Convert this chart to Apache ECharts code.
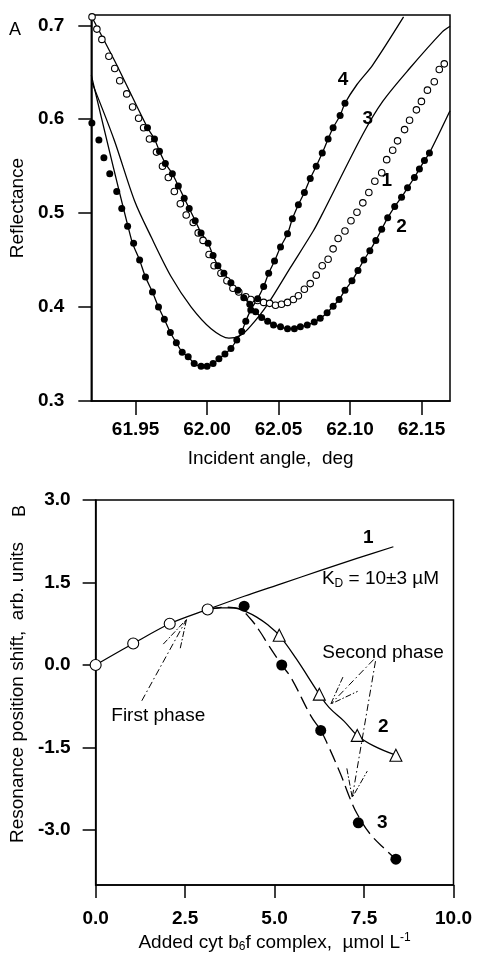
<!DOCTYPE html>
<html>
<head>
<meta charset="utf-8">
<script src="https://cdn.jsdelivr.net/npm/echarts@6/dist/echarts.min.js"></script>
<style>
html,body{margin:0;padding:0;background:#fff;}
#chart{width:477px;height:954px;}
</style>
</head>
<body>
<div id="chart"></div>
<script>
// ---------- Panel A data ----------
const angleTicks = [61.95, 62.00, 62.05, 62.10, 62.15];
const reflectanceTicks = [0.3, 0.4, 0.5, 0.6, 0.7];

const curve1Open = [
  [61.9195,0.709],[61.9229,0.696],[61.9264,0.685],[61.9313,0.667],[61.9354,0.654],[61.9389,0.641],
  [61.9438,0.627],[61.9479,0.613],[61.9521,0.601],[61.9556,0.591],[61.9597,0.579],[61.9646,0.565],
  [61.9688,0.550],[61.9729,0.538],[61.9771,0.523],[61.9813,0.510],[61.9854,0.498],[61.9903,0.490],
  [61.9938,0.479],[61.9972,0.471],[62.0014,0.456],[62.0049,0.444],[62.0097,0.436],[62.0139,0.428],
  [62.0181,0.420],[62.0222,0.416],[62.0271,0.411],[62.0306,0.408],[62.0354,0.407],[62.0396,0.405],
  [62.0438,0.404],[62.0479,0.402],[62.0521,0.403],[62.0563,0.405],[62.0604,0.408],[62.0639,0.412],
  [62.0681,0.419],[62.0722,0.425],[62.0764,0.434],[62.0806,0.444],[62.0847,0.451],[62.0882,0.462],
  [62.0917,0.473],[62.0965,0.481],[62.1007,0.492],[62.1049,0.501],[62.1090,0.511],[62.1132,0.522],
  [62.1174,0.534],[62.1222,0.543],[62.1257,0.557],[62.1299,0.567],[62.1333,0.577],[62.1382,0.589],
  [62.1417,0.599],[62.1465,0.610],[62.1500,0.619],[62.1542,0.631],[62.1590,0.640],[62.1625,0.653],
  [62.1660,0.659]
];

const curve2Filled = [
  [61.9583,0.591],[61.9632,0.579],[61.9667,0.566],[61.9708,0.553],[61.9757,0.542],[61.9799,0.529],
  [61.9840,0.516],[61.9875,0.505],[61.9917,0.492],[61.9958,0.479],[62.0007,0.468],[62.0042,0.455],
  [62.0076,0.444],[62.0118,0.436],[62.0167,0.426],[62.0215,0.418],[62.0257,0.410],[62.0299,0.403],
  [62.0340,0.395],[62.0382,0.389],[62.0424,0.385],[62.0465,0.381],[62.0514,0.379],[62.0563,0.377],
  [62.0611,0.377],[62.0653,0.379],[62.0701,0.381],[62.0750,0.384],[62.0792,0.388],[62.0840,0.394],
  [62.0882,0.401],[62.0924,0.408],[62.0965,0.418],[62.1014,0.428],[62.1056,0.439],[62.1097,0.450],
  [62.1139,0.460],[62.1181,0.471],[62.1222,0.483],[62.1264,0.495],[62.1313,0.507],[62.1361,0.517],
  [62.1403,0.527],[62.1451,0.538],[62.1486,0.547],[62.1521,0.556],[62.1556,0.564]
];
const curve2LineHead = [[61.9190,0.710],[61.9354,0.662]];
const curve2LineTail = [[62.1700,0.609]];

const curve3Line = [
  [61.9195,0.639],[61.9350,0.578],[61.9493,0.513],[61.9611,0.474],[61.9750,0.432],[61.9889,0.400],
  [62.0028,0.377],[62.0153,0.367],[62.0236,0.370],[62.0306,0.380],[62.0424,0.403],[62.0583,0.442],
  [62.0743,0.481],[62.0806,0.499],[62.1090,0.584],[62.1229,0.619],[62.1417,0.654],[62.1646,0.693],
  [62.1700,0.699]
];

const curve4Filled = [
  [61.9194,0.596],[61.9243,0.578],[61.9278,0.559],[61.9319,0.542],[61.9368,0.523],[61.9403,0.505],
  [61.9444,0.486],[61.9486,0.468],[61.9528,0.450],[61.9569,0.432],[61.9618,0.416],[61.9660,0.400],
  [61.9701,0.387],[61.9743,0.373],[61.9785,0.362],[61.9826,0.352],[61.9868,0.347],[61.9910,0.340],
  [61.9958,0.337],[62.0000,0.337],[62.0042,0.340],[62.0083,0.345],[62.0125,0.350],[62.0167,0.356],
  [62.0208,0.365],[62.0243,0.374],[62.0271,0.385],[62.0306,0.397],[62.0354,0.409],[62.0396,0.422],
  [62.0431,0.436],[62.0472,0.449],[62.0514,0.464],[62.0563,0.478],[62.0597,0.494],[62.0639,0.509],
  [62.0681,0.522],[62.0722,0.537],[62.0764,0.550],[62.0806,0.564],[62.0847,0.579],[62.0882,0.591],
  [62.0931,0.604],[62.0965,0.617]
];
const curve4LineHead = [[61.9190,0.647],[61.9472,0.471]];
const curve4LineTail = [[62.1049,0.637],[62.1160,0.658],[62.1375,0.709]];

const labelsA = [[62.0951,0.642,'4'],[62.1125,0.601,'3'],[62.1257,0.534,'1'],[62.1361,0.486,'2']];

// ---------- Panel B data ----------
const doseTicks = [0, 2.5, 5, 7.5, 10];
const shiftTicks = [-3, -1.5, 0, 1.5, 3];

const phase1Dose  = [0, 1.05, 2.07, 3.13];
const phase1Shift = [0, 0.39, 0.75, 1.01];
const fit1Dose  = [0, 1.05, 2.07, 3.13, 4.15, 5.2, 6.29, 7.3, 8.32];
const fit1Shift = [0, 0.39, 0.75, 1.01, 1.25, 1.48, 1.72, 1.94, 2.15];

const triDose  = [5.13, 6.25, 7.31, 8.39];
const triShift = [0.54, -0.53, -1.28, -1.64];
const dotDose  = [4.15, 5.2, 6.29, 7.34, 8.39];
const dotShift = [1.07, 0.0, -1.19, -2.87, -3.53];

const fit2 = [[3.13,1.01],[3.5,1.04],[3.88,1.04],[4.2,0.97],[4.5,0.87],[4.81,0.73],[5.13,0.54],
  [5.6,0.12],[6.25,-0.53],[6.52,-0.77],[6.94,-1.02],[7.31,-1.28],[7.77,-1.47],[8.39,-1.64]];
const fit3 = [[3.13,1.01],[3.6,1.05],[4.0,1.02],[4.3,0.86],[4.6,0.6],[4.81,0.38],[5.2,0.0],
  [5.46,-0.23],[6.01,-0.92],[6.29,-1.19],[6.48,-1.44],[6.85,-1.99],[7.08,-2.38],[7.31,-2.71],
  [7.68,-3.08],[8.14,-3.38],[8.39,-3.53]];

const arrowFirstShaft  = [[1.29,-0.65],[2.54,0.83]];
const arrowFirstHead   = [[1.89,0.38],[2.54,0.83],[2.36,0.29]];
const arrowSecondAShaft = [[7.77,0.10],[6.57,-0.71]];
const arrowSecondAHead  = [[6.91,-0.22],[6.57,-0.71],[7.32,-0.48]];
const arrowSecondBShaft = [[7.82,0.07],[7.17,-2.41]];
const arrowSecondBHead  = [[7.02,-1.88],[7.17,-2.41],[7.59,-1.93]];

const labelsB = [
  [7.62, 2.31, '{b|1}'],
  [7.96, 1.56, 'K{sub|D} = 10±3 µM'],
  [8.04, -1.13, '{b|2}'],
  [8.01, -2.87, '{b|3}'],
  [1.75, -0.93, 'First phase'],
  [8.03, 0.22, 'Second phase']
];

// ---------- helpers ----------
const zip = (xs, ys) => xs.map((x, i) => [x, ys[i]]);
const FONT = 'Liberation Sans, Arial, sans-serif';
const FS = 19;
const beyondA = (pts, lo, hi) => pts.filter(p => p[0] > lo && p[0] < hi);

const chart = echarts.init(document.getElementById('chart'), null, {renderer: 'canvas'});

const axisLineStyle = {onZero: false, lineStyle: {color: '#000', width: 1.5}};
const tickStyle = {show: true, inside: false, length: 13, lineStyle: {color: '#000', width: 1.5}};
const labelStyle = {color: '#000', fontSize: FS, fontFamily: FONT, fontWeight: 'bold'};
const nameStyle = {color: '#000', fontSize: FS, fontFamily: FONT};

const lineS = (xi, yi, data, extra) => Object.assign({
  type: 'line', xAxisIndex: xi, yAxisIndex: yi, data: data, symbol: 'none',
  lineStyle: {color: '#000', width: 1.3}, z: 3, silent: true, animation: false
}, extra || {});

const labelSeries = (xi, yi, data, rich, weight) => ({
  type: 'scatter', xAxisIndex: xi, yAxisIndex: yi, symbolSize: 0, silent: true, animation: false, z: 6,
  itemStyle: {opacity: 1},
  data: data.map(d => ({value: [d[0], d[1]], name: d[2]})),
  label: {show: true, position: 'inside', formatter: p => p.name, color: '#000', opacity: 1,
    fontSize: FS, fontFamily: FONT, fontWeight: weight || 'normal', rich: rich || {}}
});

const option = {
  animation: false,
  backgroundColor: '#fff',
  grid: [
    {left: 90, top: 15, width: 360, height: 386, show: true, borderColor: '#000', borderWidth: 1.5},
    {left: 93.5, top: 500, width: 360, height: 386, show: true, borderColor: '#000', borderWidth: 1.5}
  ],
  xAxis: [
    {type: 'value', gridIndex: 0, min: 61.919, max: 62.17,
     axisLine: axisLineStyle, axisTick: Object.assign({}, tickStyle, {customValues: angleTicks, length: 14}),
     axisLabel: Object.assign({}, labelStyle, {customValues: angleTicks, margin: 19, formatter: v => v.toFixed(2)}),
     splitLine: {show: false},
     name: 'Incident angle,  deg', nameLocation: 'middle', nameGap: 48, nameTextStyle: nameStyle},
    {type: 'value', gridIndex: 1, min: 0, max: 10, interval: 2.5,
     axisLine: axisLineStyle, axisTick: Object.assign({}, tickStyle, {customValues: doseTicks}),
     axisLabel: Object.assign({}, labelStyle, {customValues: doseTicks, margin: 24, formatter: v => v.toFixed(1)}),
     splitLine: {show: false},
     name: 'Added cyt b{sub|6}f complex,  µmol L{sup|-1}', nameLocation: 'middle', nameGap: 47,
     nameTextStyle: Object.assign({}, nameStyle, {rich: {
       sub: {fontSize: 12, fontFamily: FONT, color: '#000', padding: [9, 0, 0, 0]},
       sup: {fontSize: 12, fontFamily: FONT, color: '#000', padding: [0, 0, 9, 0]}
     }})}
  ],
  yAxis: [
    {type: 'value', gridIndex: 0, min: 0.3, max: 0.711,
     axisLine: axisLineStyle, axisTick: Object.assign({}, tickStyle, {customValues: reflectanceTicks}),
     axisLabel: Object.assign({}, labelStyle, {customValues: reflectanceTicks, margin: 27, formatter: v => v.toFixed(1)}),
     splitLine: {show: false},
     name: 'Reflectance', nameLocation: 'middle', nameRotate: 90, nameGap: 62, nameTextStyle: nameStyle},
    {type: 'value', gridIndex: 1, min: -4, max: 3,
     axisLine: axisLineStyle, axisTick: Object.assign({}, tickStyle, {customValues: shiftTicks}),
     axisLabel: Object.assign({}, labelStyle, {customValues: shiftTicks, margin: 25, formatter: v => v.toFixed(1)}),
     splitLine: {show: false},
     name: 'Resonance position shift,  arb. units', nameLocation: 'middle', nameRotate: 90, nameGap: 66,
     nameTextStyle: nameStyle}
  ],
  graphic: [
    {type: 'text', x: 15, y: 30, z: 10, style: {text: 'A', font: '18px "Liberation Sans", Arial, sans-serif',
      fill: '#000', align: 'center', verticalAlign: 'middle'}},
    {type: 'text', x: 20, y: 511, z: 10, rotation: Math.PI / 2, style: {text: 'B',
      font: '18px "Liberation Sans", Arial, sans-serif', fill: '#000', align: 'center', verticalAlign: 'middle'}}
  ],
  series: [
    // ---- Panel A ----
    lineS(0, 0, curve2LineHead.concat(curve2Filled, curve2LineTail), {smooth: 0.3}),
    lineS(0, 0, curve3Line, {smooth: 0.3}),
    lineS(0, 0, curve4LineHead.concat(beyondA(curve4Filled, 61.95, 62.2), curve4LineTail), {smooth: 0.3}),
    {type: 'scatter', xAxisIndex: 0, yAxisIndex: 0, data: curve1Open, symbol: 'circle', symbolSize: 6.5,
     clip: false, itemStyle: {color: '#fff', borderColor: '#000', borderWidth: 1.1, opacity: 1}, z: 4, silent: true},
    {type: 'scatter', xAxisIndex: 0, yAxisIndex: 0, data: curve2Filled, symbol: 'circle', symbolSize: 7,
     clip: false, itemStyle: {color: '#000', opacity: 1}, z: 5, silent: true},
    {type: 'scatter', xAxisIndex: 0, yAxisIndex: 0, data: curve4Filled, symbol: 'circle', symbolSize: 7,
     clip: false, itemStyle: {color: '#000', opacity: 1}, z: 5, silent: true},
    labelSeries(0, 0, labelsA, {}, 'bold'),
    // ---- Panel B ----
    lineS(1, 1, zip(fit1Dose, fit1Shift), {smooth: 0.3}),
    lineS(1, 1, fit2, {smooth: 0.4}),
    lineS(1, 1, fit3, {smooth: 0.4, lineStyle: {color: '#000', width: 1.3, type: [14, 6]}}),
    lineS(1, 1, arrowFirstShaft, {lineStyle: {color: '#000', width: 1, type: [7, 3, 1.5, 3]}}),
    lineS(1, 1, arrowFirstHead, {lineStyle: {color: '#000', width: 1, type: [6, 2, 1.5, 2]}}),
    lineS(1, 1, arrowSecondAShaft, {lineStyle: {color: '#000', width: 1, type: [7, 3, 1.5, 3]}}),
    lineS(1, 1, arrowSecondAHead, {lineStyle: {color: '#000', width: 1, type: [6, 2, 1.5, 2]}}),
    lineS(1, 1, arrowSecondBShaft, {lineStyle: {color: '#000', width: 1, type: [7, 3, 1.5, 3]}}),
    lineS(1, 1, arrowSecondBHead, {lineStyle: {color: '#000', width: 1, type: [6, 2, 1.5, 2]}}),
    {type: 'scatter', xAxisIndex: 1, yAxisIndex: 1, data: zip(phase1Dose, phase1Shift), symbol: 'circle',
     symbolSize: 11, clip: false, itemStyle: {color: '#fff', borderColor: '#000', borderWidth: 1.1, opacity: 1}, z: 5, silent: true},
    {type: 'scatter', xAxisIndex: 1, yAxisIndex: 1, data: zip(triDose, triShift), symbol: 'triangle',
     symbolSize: 12, itemStyle: {color: '#fff', borderColor: '#000', borderWidth: 1.1, opacity: 1}, z: 5, silent: true},
    {type: 'scatter', xAxisIndex: 1, yAxisIndex: 1, data: zip(dotDose, dotShift), symbol: 'circle',
     symbolSize: 11, itemStyle: {color: '#000', opacity: 1}, z: 5, silent: true},
    labelSeries(1, 1, labelsB, {
      b: {fontSize: FS, fontFamily: FONT, fontWeight: 'bold', color: '#000'},
      sub: {fontSize: 12, fontFamily: FONT, color: '#000', padding: [9, 0, 0, 0]}
    })
  ]
};
chart.setOption(option);
</script>
</body>
</html>
